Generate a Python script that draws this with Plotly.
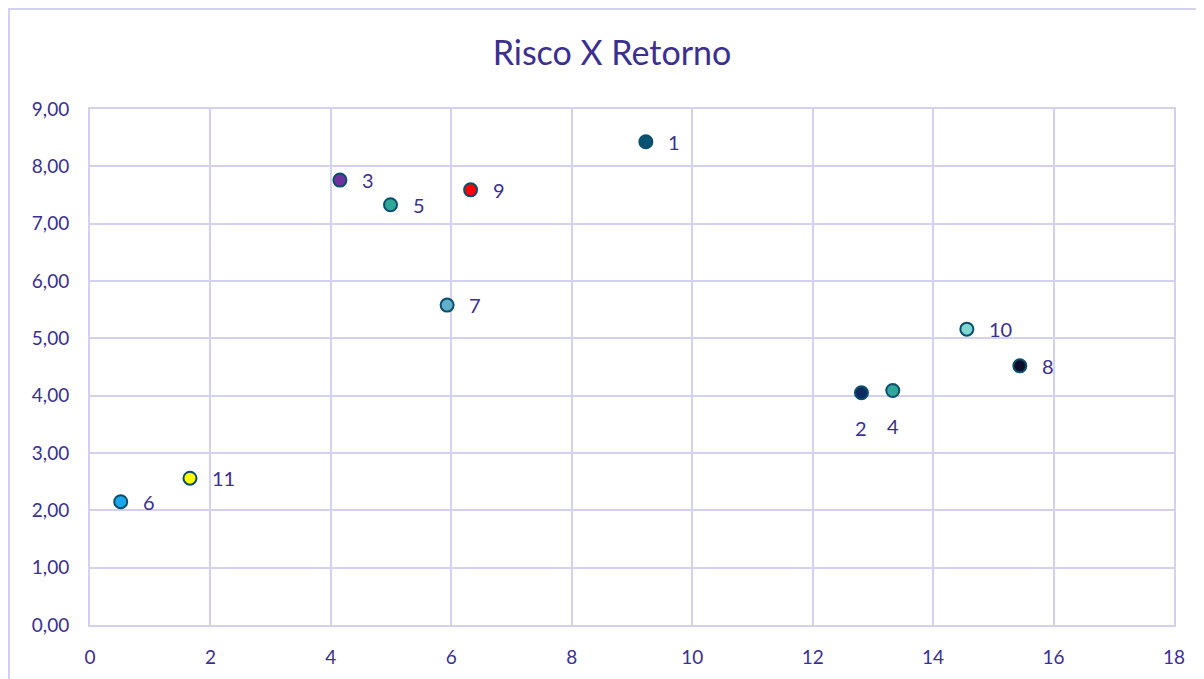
import plotly.graph_objects as go

labels = ["1", "2", "3", "4", "5", "6", "7", "8", "9", "10", "11"]
risco = [9.23, 12.81, 4.15, 13.33, 4.99, 0.51, 5.93, 15.44, 6.32, 14.56, 1.66]
retorno = [8.43, 4.05, 7.76, 4.09, 7.33, 2.15, 5.58, 4.52, 7.59, 5.16, 2.56]
colors = ["#0b5372", "#0d2a5e", "#7030a0", "#33a69b", "#2fa69a", "#1aa7ec",
          "#5fb0c8", "#0d0d2b", "#ff0000", "#7fd8d0", "#ffff00"]
below = ["2", "4"]

TXT = "#3b2f8f"
GRID = "#d3d0f0"
FONT = "Lato"

W, H = 1204, 679
L, T = 82, 101
PW, PH = 1084, 516

fig = go.Figure()
fig.add_trace(go.Scatter(
    x=risco, y=retorno, mode="markers",
    marker=dict(size=13, color=colors, line=dict(color="#0b4e6c", width=2)),
    showlegend=False, hoverinfo="skip"))

for lab, xv, yv in zip(labels, risco, retorno):
    if lab in below:
        fig.add_annotation(x=xv, y=yv, text=lab, showarrow=False, xanchor="center",
                           yanchor="middle", yshift=-35,
                           font=dict(family=FONT, size=20, color=TXT))
    else:
        fig.add_annotation(x=xv, y=yv, text=lab, showarrow=False, xanchor="left",
                           yanchor="middle", xshift=20,
                           font=dict(family=FONT, size=20, color=TXT))

fig.add_shape(type="rect", xref="paper", yref="paper",
              x0=(1 - L) / PW, x1=1.2, y0=-0.3, y1=(T + PH - 1) / PH,
              line=dict(color=GRID, width=2), layer="below")

fig.update_layout(
    width=W, height=H,
    margin=dict(l=L, r=W - L - PW, t=T, b=H - T - PH),
    paper_bgcolor="white", plot_bgcolor="white",
    separators=",.",
    title=dict(text="Risco X Retorno", x=(612 - 8) / W, xanchor="center",
               y=1 - 45 / H, yanchor="middle",
               font=dict(family=FONT, size=34, color=TXT)),
    font=dict(family=FONT, size=19, color=TXT),
    xaxis=dict(range=[0, 18], dtick=2, tick0=0, showgrid=True, gridcolor=GRID,
               gridwidth=2, zeroline=False, showline=True, linecolor=GRID,
               linewidth=2, mirror=True, ticks="", ticklabelstandoff=14,
               tickfont=dict(family=FONT, size=19, color=TXT), fixedrange=True),
    yaxis=dict(range=[0, 9], dtick=1, tick0=0, tickformat=".2f", showgrid=True,
               gridcolor=GRID, gridwidth=2, zeroline=False, showline=True,
               linecolor=GRID, linewidth=2, mirror=True, ticks="",
               ticklabelstandoff=15,
               tickfont=dict(family=FONT, size=19, color=TXT), fixedrange=True),
)

fig.write_html("out.html")
